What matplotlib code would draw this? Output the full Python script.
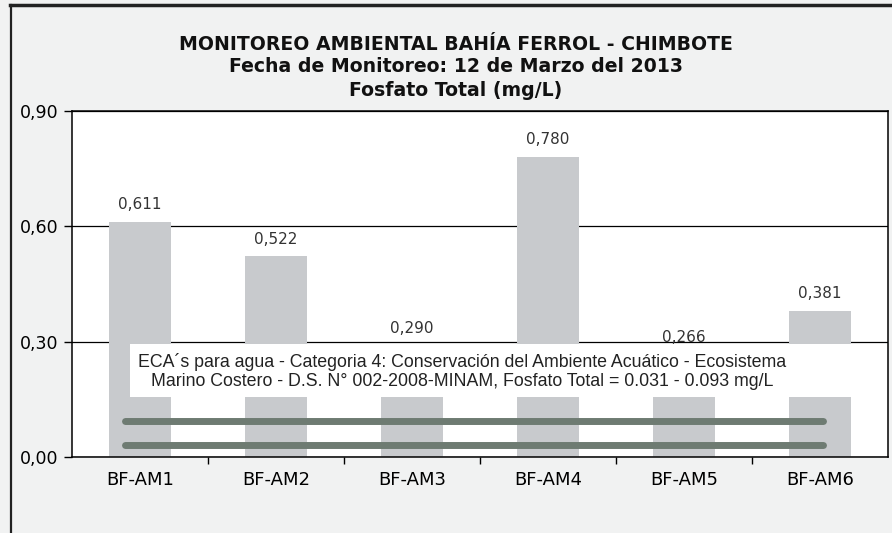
import numpy as np
import matplotlib
matplotlib.use('Agg')
from matplotlib import pyplot as plt
from matplotlib.patches import Rectangle
from matplotlib.lines import Line2D

estaciones = ['BF-AM1', 'BF-AM2', 'BF-AM3', 'BF-AM4', 'BF-AM5', 'BF-AM6']
fosfato = [0.611, 0.522, 0.290, 0.780, 0.266, 0.381]
eca_min = 0.031
eca_max = 0.093
yticks = [0.0, 0.3, 0.6, 0.9]

titulo = ['MONITOREO AMBIENTAL BAHÍA FERROL - CHIMBOTE',
          'Fecha de Monitoreo: 12 de Marzo del 2013',
          'Fosfato Total (mg/L)']
nota = ('ECA´s para agua - Categoria 4: Conservación del Ambiente Acuático - Ecosistema\n'
        'Marino Costero - D.S. N° 002-2008-MINAM, Fosfato Total = 0.031 - 0.093 mg/L')

fig = plt.figure(figsize=(8.92, 5.33), dpi=100, facecolor='#f1f2f2')
ax = fig.add_axes([0.0807, 0.1426, 0.9148, 0.6491])
ax.set_facecolor('white')

x = np.arange(len(estaciones))
ax.bar(x, fosfato, width=0.46, color='#c8cacd', zorder=2)
ax.set_xlim(-0.5, len(estaciones) - 0.5)
ax.set_ylim(0, 0.9)

for xi, v in zip(x, fosfato):
    ax.annotate(('%.3f' % v).replace('.', ','), (xi, v), xytext=(0, 7),
                textcoords='offset points', ha='center', va='bottom',
                fontsize=11, color='#333333', zorder=5)

# nota ECA (cuadro blanco sobre las barras)
trans = matplotlib.transforms.blended_transform_factory(ax.transAxes, ax.transData)
ax.add_patch(Rectangle((0.071, 0.156), 0.925, 0.138, transform=trans,
                       facecolor='white', edgecolor='none', zorder=3))
ax.text(0.478, 0.222, nota, transform=trans, ha='center', va='center',
        fontsize=12.8, family='Liberation Sans', color='#222222',
        linespacing=1.2, zorder=4)

# limites ECA
for lim in [eca_max, eca_min]:
    ax.axhline(lim, xmin=0.065, xmax=0.92, color='#6e7b72', lw=5,
               solid_capstyle='round', zorder=4)

ax.set_yticks(yticks)
ax.set_yticklabels([('%.2f' % t).replace('.', ',') for t in yticks], fontsize=12.5)
ax.yaxis.grid(True, color='black', lw=0.9, zorder=1)
ax.set_axisbelow(True)
ax.tick_params(axis='y', length=6, width=1, direction='out', pad=4)

ax.set_xticks(x)
ax.set_xticklabels(estaciones, fontsize=13)
ax.set_xticks(np.arange(0.5, len(estaciones) - 0.5), minor=True)
ax.tick_params(axis='x', which='major', length=0, pad=10)
ax.tick_params(axis='x', which='minor', length=5, width=1, direction='out')

for s in ax.spines.values():
    s.set_color('black')
    s.set_linewidth(1.1)

ys = [0.9156, 0.8743, 0.8311]
for t, y in zip(titulo, ys):
    fig.text(0.511, y, t, ha='center', va='center', fontsize=13.6,
             fontweight='bold', color='#111111')

# marco del documento
fig.add_artist(Line2D([0.011, 1.0], [0.99, 0.99], color='#222222', lw=2.5))
fig.add_artist(Line2D([0.012, 0.012], [0.0, 0.99], color='#222222', lw=1.6))

fig.savefig('out.png', dpi=100, facecolor=fig.get_facecolor())
